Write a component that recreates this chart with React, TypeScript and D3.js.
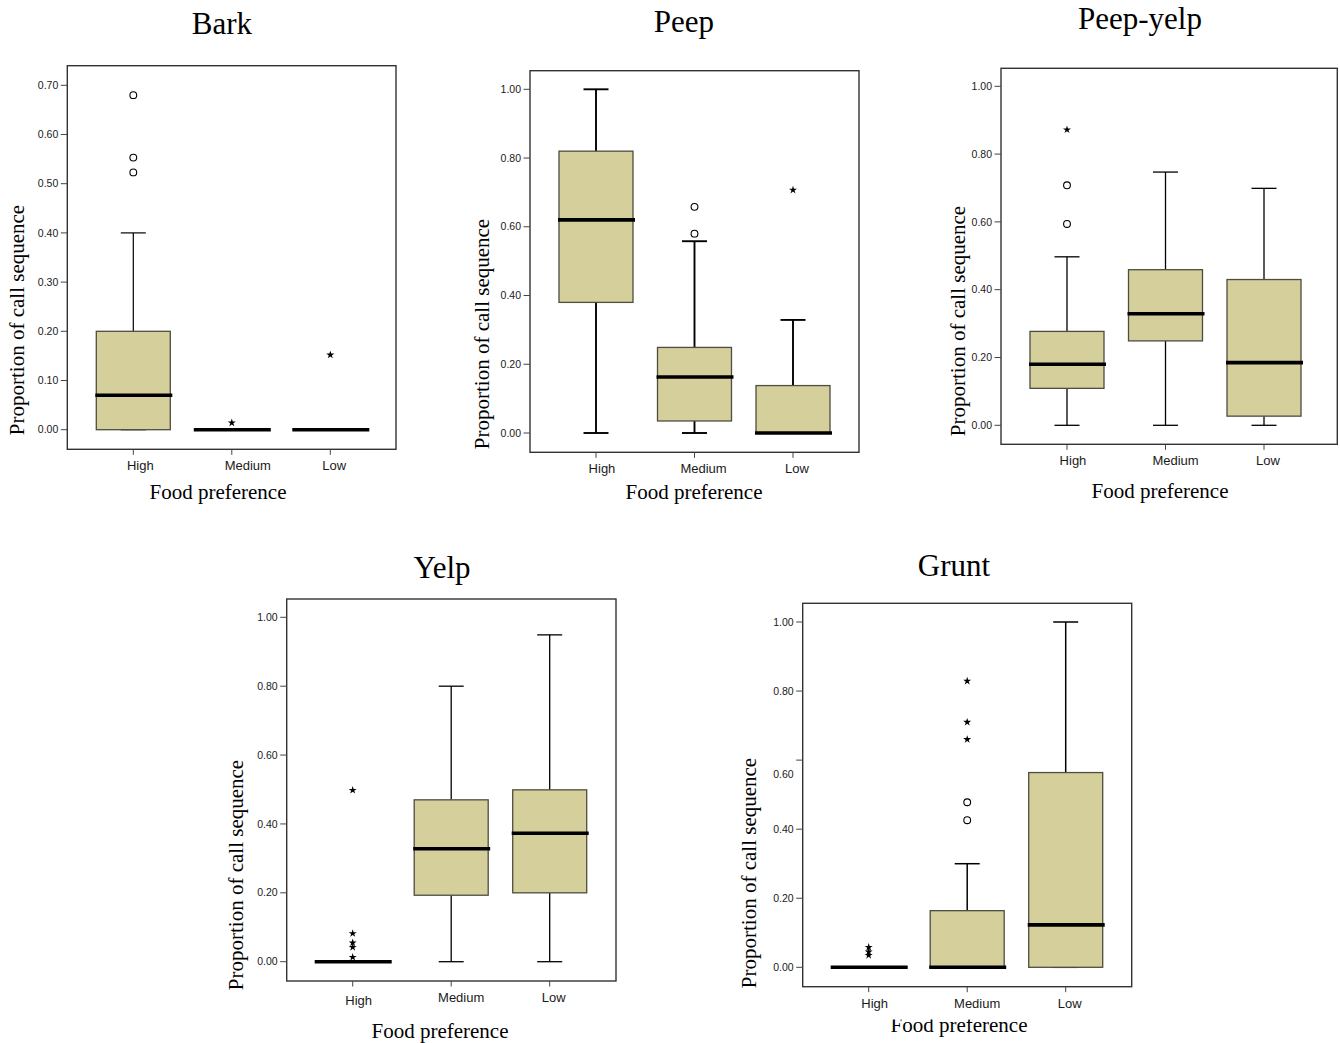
import React from "react";
import * as d3 from "d3";

// Food preference groups shared by every panel
const categories = ["High", "Medium", "Low"];

// Box statistics per group: whisker ends, quartiles, median, mild outliers (circles), extremes (stars)
const barkStats = [
  { lo: 0, q1: 0, med: 0.07, q3: 0.2, hi: 0.4, circles: [0.68, 0.553, 0.523], stars: [] },
  { lo: 0, q1: 0, med: 0, q3: 0, hi: 0, circles: [], stars: [0.014] },
  { lo: 0, q1: 0, med: 0, q3: 0, hi: 0, circles: [], stars: [0.152] },
];
const peepStats = [
  { lo: 0, q1: 0.38, med: 0.62, q3: 0.82, hi: 1.0, circles: [], stars: [] },
  { lo: 0, q1: 0.035, med: 0.163, q3: 0.249, hi: 0.558, circles: [0.658, 0.58], stars: [] },
  { lo: 0, q1: 0, med: 0, q3: 0.138, hi: 0.329, circles: [], stars: [0.707] },
];
const peepYelpStats = [
  { lo: 0, q1: 0.109, med: 0.18, q3: 0.277, hi: 0.497, circles: [0.708, 0.594], stars: [0.872] },
  { lo: 0, q1: 0.249, med: 0.329, q3: 0.459, hi: 0.747, circles: [], stars: [] },
  { lo: 0, q1: 0.027, med: 0.185, q3: 0.43, hi: 0.699, circles: [], stars: [] },
];
const yelpStats = [
  { lo: 0, q1: 0, med: 0, q3: 0, hi: 0, circles: [], stars: [0.498, 0.082, 0.055, 0.042, 0.013] },
  { lo: 0, q1: 0.193, med: 0.328, q3: 0.47, hi: 0.8, circles: [], stars: [] },
  { lo: 0, q1: 0.2, med: 0.373, q3: 0.499, hi: 0.949, circles: [], stars: [] },
];
const gruntStats = [
  { lo: 0, q1: 0, med: 0, q3: 0, hi: 0, circles: [], stars: [0.058, 0.045, 0.035] },
  { lo: 0, q1: 0, med: 0, q3: 0.164, hi: 0.3, circles: [0.478, 0.426], stars: [0.829, 0.71, 0.66] },
  { lo: 0, q1: 0, med: 0.123, q3: 0.564, hi: 1.0, circles: [], stars: [] },
];

// Y tick values
const barkTicks = [0, 0.1, 0.2, 0.3, 0.4, 0.5, 0.6, 0.7];
const unitTicks = [0, 0.2, 0.4, 0.6, 0.8, 1.0];

const FILL = "#d4cf9b";
const SANS = "'Liberation Sans', Arial, Helvetica, sans-serif";
const SERIF = "'Liberation Serif', 'Times New Roman', Times, serif";

type Stat = { lo: number; q1: number; med: number; q3: number; hi: number; circles: number[]; stars: number[] };

type PanelDef = {
  title: string;
  stats: Stat[];
  ticks: number[];
  frame: { x: number; y: number; w: number; h: number };
  y0: number; // pixel of value 0
  yTop: number; // pixel of top tick
  titlePos: [number, number];
  xTitlePos: [number, number];
  yTitlePos: [number, number];
  labelDx: number[];
  labelDy?: number[];
  whiskerWidth: number;
  tickLabelDy?: Record<string, number>;
  clipXTitleAbove?: number;
};

const panels: PanelDef[] = [
  {
    title: "Bark", stats: barkStats, ticks: barkTicks,
    frame: { x: 67.3, y: 65.7, w: 328.7, h: 383.6 }, y0: 429.7, yTop: 85.3,
    titlePos: [222, 34], xTitlePos: [218, 499], yTitlePos: [24, 320],
    labelDx: [7, 16, 4], whiskerWidth: 1.2,
  },
  {
    title: "Peep", stats: peepStats, ticks: unitTicks,
    frame: { x: 530, y: 70.7, w: 329, h: 381.6 }, y0: 433, yTop: 89.3,
    titlePos: [684, 32], xTitlePos: [694, 499], yTitlePos: [489, 334],
    labelDx: [6, 9, 4], whiskerWidth: 1.9,
  },
  {
    title: "Peep-yelp", stats: peepYelpStats, ticks: unitTicks,
    frame: { x: 1001, y: 68.3, w: 336.3, h: 376 }, y0: 425.3, yTop: 86.3,
    titlePos: [1140, 29], xTitlePos: [1160, 498], yTitlePos: [965, 321],
    labelDx: [6, 10, 4], whiskerWidth: 1.3,
  },
  {
    title: "Yelp", stats: yelpStats, ticks: unitTicks,
    frame: { x: 286.7, y: 599, w: 329.3, h: 382 }, y0: 961.7, yTop: 617.3,
    titlePos: [442, 578], xTitlePos: [440, 1038], yTitlePos: [243, 875],
    labelDx: [6, 10, 4], labelDy: [3, 0, 0], whiskerWidth: 1.3,
  },
  {
    title: "Grunt", stats: gruntStats, ticks: unitTicks,
    frame: { x: 802.7, y: 603.3, w: 329, h: 383.4 }, y0: 967.3, yTop: 622,
    titlePos: [954, 576], xTitlePos: [959, 1032], yTitlePos: [756, 873],
    labelDx: [6, 10, 4], whiskerWidth: 1.5,
    tickLabelDy: { "0.60": 14 }, clipXTitleAbove: 1019.5,
  },
];

const fmt = d3.format(".2f");
const starPath = d3.symbol().type(d3.symbolStar).size(20)() as string;

function Panel({ p, idx }: { p: PanelDef; idx: number }) {
  const { frame } = p;
  const maxTick = p.ticks[p.ticks.length - 1];
  const y = d3.scaleLinear().domain([0, maxTick]).range([p.y0, p.yTop]);
  const x = d3.scalePoint<string>().domain(categories).range([frame.x, frame.x + 329]).padding(0.67);
  const boxW = 74;
  const capW = 25;
  const bottom = frame.y + frame.h;
  const clipId = `xtitle-clip-${idx}`;

  return (
    <g>
      <text x={p.titlePos[0]} y={p.titlePos[1]} textAnchor="middle" fontFamily={SERIF} fontSize={31} fill="#000">
        {p.title}
      </text>

      {/* boxes */}
      {p.stats.map((s, i) => {
        const cx = x(categories[i]) as number;
        return (
          <g key={i}>
            {s.hi > s.q3 && (
              <line x1={cx} x2={cx} y1={y(s.q3)} y2={y(s.hi)} stroke="#000" strokeWidth={p.whiskerWidth} />
            )}
            {s.lo < s.q1 && (
              <line x1={cx} x2={cx} y1={y(s.q1)} y2={y(s.lo)} stroke="#000" strokeWidth={p.whiskerWidth} />
            )}
            <line x1={cx - capW / 2} x2={cx + capW / 2} y1={y(s.hi)} y2={y(s.hi)} stroke="#000" strokeWidth={p.whiskerWidth} />
            <line x1={cx - capW / 2} x2={cx + capW / 2} y1={y(s.lo)} y2={y(s.lo)} stroke="#000" strokeWidth={p.whiskerWidth} />
            <rect
              x={cx - boxW / 2}
              y={y(s.q3)}
              width={boxW}
              height={Math.max(0, y(s.q1) - y(s.q3))}
              fill={FILL}
              stroke="#4d4d40"
              strokeWidth={1.3}
            />
            <line x1={cx - boxW / 2 - 1} x2={cx + boxW / 2 + 2} y1={y(s.med)} y2={y(s.med)} stroke="#000" strokeWidth={3.6} />
            {s.circles.map((v, j) => (
              <circle key={"c" + j} cx={cx} cy={y(v)} r={3.4} fill="#fff" stroke="#000" strokeWidth={1.1} />
            ))}
            {s.stars.map((v, j) => (
              <path key={"s" + j} d={starPath} transform={`translate(${cx},${y(v)})`} fill="#000" />
            ))}
          </g>
        );
      })}

      {/* frame */}
      <rect x={frame.x} y={frame.y} width={frame.w} height={frame.h} fill="none" stroke="#333" strokeWidth={1.4} />

      {/* y axis */}
      {p.ticks.map((t) => {
        const label = fmt(t);
        const dy = (p.tickLabelDy && p.tickLabelDy[label]) || 0;
        return (
          <g key={t}>
            <line x1={frame.x - 6.5} x2={frame.x} y1={y(t)} y2={y(t)} stroke="#444" strokeWidth={1} />
            <text
              x={frame.x - 9}
              y={y(t) + dy}
              dy="0.35em"
              textAnchor="end"
              fontFamily={SANS}
              fontSize={10.5}
              fill="#1a1a1a"
            >
              {label}
            </text>
          </g>
        );
      })}

      {/* x axis */}
      {categories.map((c, i) => {
        const cx = x(c) as number;
        return (
          <g key={c}>
            <line x1={cx} x2={cx} y1={bottom} y2={bottom + 5.5} stroke="#444" strokeWidth={1} />
            <text
              x={cx + p.labelDx[i]}
              y={bottom + 21 + (p.labelDy ? p.labelDy[i] : 0)}
              textAnchor="middle"
              fontFamily={SANS}
              fontSize={13}
              fill="#1a1a1a"
            >
              {c}
            </text>
          </g>
        );
      })}

      {p.clipXTitleAbove !== undefined && (
        <defs>
          <clipPath id={clipId}>
            <rect x={frame.x - 100} y={p.clipXTitleAbove} width={frame.w + 200} height={60} />
          </clipPath>
        </defs>
      )}
      <text
        x={p.xTitlePos[0]}
        y={p.xTitlePos[1]}
        textAnchor="middle"
        fontFamily={SERIF}
        fontSize={21}
        fill="#000"
        clipPath={p.clipXTitleAbove !== undefined ? `url(#${clipId})` : undefined}
      >
        Food preference
      </text>
      <text
        transform={`translate(${p.yTitlePos[0]},${p.yTitlePos[1]}) rotate(-90)`}
        textAnchor="middle"
        fontFamily={SERIF}
        fontSize={21}
        fill="#000"
      >
        Proportion of call sequence
      </text>
    </g>
  );
}

export default function App() {
  return (
    <svg
      width={1340}
      height={1043}
      viewBox="0 0 1340 1043"
      style={{ position: "absolute", left: 0, top: 0, background: "#fff" }}
    >
      <rect x={0} y={0} width={1340} height={1043} fill="#fff" />
      {panels.map((p, i) => (
        <Panel key={p.title} p={p} idx={i} />
      ))}
    </svg>
  );
}
